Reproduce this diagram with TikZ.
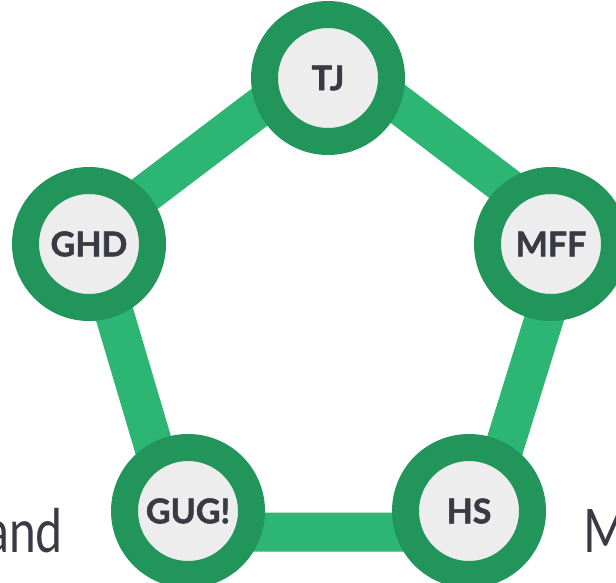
\documentclass[tikz,border=0pt]{standalone}
\usepackage{fontspec}
\setmainfont{Lato}
\newfontfamily\stationfont[FakeBold=1.6]{Lato Bold}
\definecolor{ringgreen}{HTML}{21955A}
\definecolor{trackgreen}{HTML}{2DB673}
\definecolor{innergray}{HTML}{EDEDED}
\definecolor{textgray}{HTML}{3A3A44}
\tikzset{
  station/.style={circle, draw=ringgreen, line width=27pt, fill=innergray,
    minimum size=127pt, inner sep=0pt, text=textgray,
    font=\stationfont\fontsize{34}{34}\selectfont},
  track/.style={draw=trackgreen, line width=39pt, line join=round},
  sidetext/.style={text=textgray, inner sep=0pt, xscale=0.8,
    font=\fontsize{60}{60}\selectfont}
}
\begin{document}
\begin{tikzpicture}[x=1pt,y=-1pt]
  \useasboundingbox (0,0) rectangle (616,583);
  \clip (0,0) rectangle (616,583);
	% corners of the track
	\coordinate (tjC) at (331,53);
	\coordinate (ghdC) at (91,235);
	\coordinate (mffC) at (570,235);
	\coordinate (gugC) at (179,532);
	\coordinate (hsC) at (478,532);
	\draw[track] (tjC) -- (mffC) -- (hsC) -- (gugC) -- (ghdC) -- cycle;
	% stations
	\node [station] (tj) at (328,78) {TJ};
	\node [station] (ghd) at (89,244) {GHD};
	\node [station] (mff) at (551,244) {MFF};
	\node [station] (gug) at (188,511) {GUG!};
	\node [station] (hs) at (469,511) {HS};
	% text at the sides
	\node [sidetext, anchor=base east] (andtxt) at (63,552) {and};
	\node [sidetext, anchor=base west] (mtxt) at (583,552) {M};
\end{tikzpicture}
\end{document}
